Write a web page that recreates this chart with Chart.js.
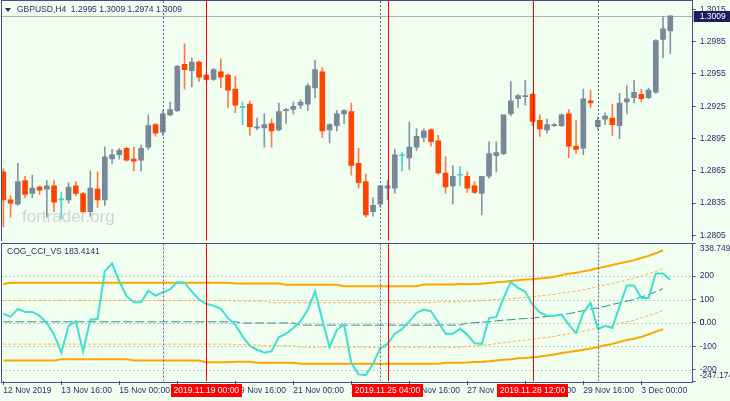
<!DOCTYPE html>
<html>
<head>
<meta charset="utf-8">
<script src="https://cdn.jsdelivr.net/npm/chart.js@4.4.1/dist/chart.umd.min.js"></script>
<style>
  html, body { margin: 0; padding: 0; background: #F0FFF0; }
  #wrap { position: relative; width: 730px; height: 401px; overflow: hidden; background: #F0FFF0; }
  #priceCanvas { position: absolute; left: 0; top: 0; }
  #cciCanvas { position: absolute; left: 0; top: 241px; }
</style>
</head>
<body>
<div id="wrap">
  <canvas id="priceCanvas" width="730" height="241"></canvas>
  <canvas id="cciCanvas" width="730" height="160"></canvas>
</div>
<script>
// GBPUSD H4, 12 Nov 2019 08:00 .. 3 Dec 2019 16:00
const opens = [1.2864,1.2838,1.2834,1.2856,1.2844,1.2850,1.2848,1.2851,1.2838,1.2838,
  1.2851,1.2844,1.2827,1.2848,1.2838,1.2876,1.2880,1.2886,1.2876,1.2875,
  1.2887,1.2908,1.2901,1.2917,1.2921,1.2964,1.2958,1.2966,1.2954,1.2950,
  1.2957,1.2954,1.2941,1.2924,1.2927,1.2905,1.2905,1.2909,1.2903,1.2921,
  1.2922,1.2926,1.2927,1.2942,1.2957,1.2903,1.2907,1.2918,1.2920,1.2872,
  1.2855,1.2827,1.2834,1.2849,1.2849,1.2879,1.2877,1.2887,1.2896,1.2903,
  1.2893,1.2863,1.2851,1.2861,1.2860,1.2851,1.2844,1.2860,1.2879,1.2881,
  1.2918,1.2932,1.2934,1.2936,1.2912,1.2903,1.2907,1.2907,1.2918,1.2888,
  1.2886,1.2930,1.2906,1.2913,1.2914,1.2907,1.2929,1.2933,1.2936,1.2933,
  1.2938,1.2987,1.2995];
const highs = [1.2867,1.2842,1.2872,1.2860,1.2861,1.2851,1.2856,1.2856,1.2845,1.2854,
  1.2855,1.2845,1.2865,1.2864,1.2887,1.2885,1.2886,1.2887,1.2887,1.2889,
  1.2917,1.2909,1.2921,1.2929,1.2963,1.2983,1.2970,1.2967,1.2955,1.2960,
  1.2969,1.2955,1.2953,1.2929,1.2930,1.2914,1.2918,1.2913,1.2928,1.2923,
  1.2929,1.2931,1.2946,1.2968,1.2961,1.2909,1.2921,1.2922,1.2928,1.2886,
  1.2862,1.2840,1.2851,1.2856,1.2885,1.2882,1.2910,1.2904,1.2904,1.2904,
  1.2898,1.2878,1.2870,1.2869,1.2864,1.2855,1.2860,1.2892,1.2892,1.2917,
  1.2948,1.2936,1.2949,1.2937,1.2917,1.2913,1.2909,1.2918,1.2922,1.2912,
  1.2941,1.2940,1.2915,1.2919,1.2927,1.2937,1.2944,1.2949,1.2941,1.2942,
  1.2987,1.3008,1.3009];
const lows = [1.2813,1.2822,1.2833,1.2840,1.2840,1.2843,1.2822,1.2827,1.2820,1.2835,
  1.2842,1.2826,1.2823,1.2831,1.2833,1.2872,1.2876,1.2874,1.2865,1.2865,
  1.2885,1.2897,1.2898,1.2916,1.2920,1.2941,1.2943,1.2948,1.2949,1.2949,
  1.2942,1.2924,1.2919,1.2908,1.2898,1.2903,1.2887,1.2887,1.2902,1.2909,
  1.2918,1.2923,1.2921,1.2933,1.2896,1.2891,1.2902,1.2909,1.2861,1.2849,
  1.2822,1.2823,1.2831,1.2838,1.2844,1.2865,1.2866,1.2884,1.2892,1.2888,
  1.2862,1.2844,1.2834,1.2851,1.2845,1.2844,1.2824,1.2858,1.2864,1.2880,
  1.2916,1.2924,1.2926,1.2907,1.2897,1.2900,1.2906,1.2906,1.2877,1.2881,
  1.2880,1.2924,1.2903,1.2908,1.2898,1.2895,1.2918,1.2928,1.2929,1.2932,
  1.2937,1.2970,1.2974];
const closes = [1.2838,1.2835,1.2855,1.2843,1.2849,1.2847,1.2851,1.2836,1.2838,1.2850,
  1.2844,1.2827,1.2849,1.2838,1.2878,1.2880,1.2884,1.2875,1.2874,1.2886,
  1.2907,1.2900,1.2918,1.2922,1.2962,1.2959,1.2966,1.2952,1.2950,1.2959,
  1.2952,1.2940,1.2926,1.2924,1.2906,1.2906,1.2908,1.2902,1.2920,1.2922,
  1.2925,1.2929,1.2944,1.2959,1.2902,1.2908,1.2918,1.2921,1.2870,1.2854,
  1.2824,1.2833,1.2851,1.2851,1.2880,1.2879,1.2887,1.2897,1.2902,1.2892,
  1.2863,1.2850,1.2860,1.2861,1.2849,1.2845,1.2860,1.2881,1.2882,1.2917,
  1.2930,1.2935,1.2935,1.2911,1.2904,1.2908,1.2908,1.2917,1.2888,1.2885,
  1.2932,1.2928,1.2912,1.2916,1.2908,1.2928,1.2932,1.2938,1.2932,1.2940,
  1.2986,1.2997,1.3009];

// COG_CCI_VS indicator
const cciValues = [40,26,60,47,47,31,0,-50,-126,-12,
  7,-122,14,17,221,254,178,114,88,88,
  138,117,131,143,174,171,135,100,81,74,
  60,21,-7,-57,-97,-114,-126,-121,-60,-46,
  -21,7,57,135,14,-103,-29,-7,-171,-219,
  -222,-174,-107,-89,-46,-26,7,43,57,50,
  3,-46,-46,-24,-50,-86,-89,21,26,107,
  174,150,133,78,45,31,31,36,-7,-43,
  43,86,-26,-12,-21,71,160,160,107,107,
  211,211,183.4141];
const cogUpper = [165,172,172,172,172,172,172,172,172,172,
  172,172,172,172,172,172,172,172,172,172,
  172,172,172,172,172,172,172,172,172,172,
  172,172,168,168,168,168,168,168,168,163,
  163,163,163,163,163,163,163,157,157,157,
  157,157,157,157,157,157,157,157,164,164,
  164,164,164,166,165,166,167,170,174,176,
  179,182,185,186,190,193,197,204,210,214,
  220,226,234,240,247,254,261,268,277,286,
  297,310,null];
const cogLower = [-160,-160,-160,-160,-160,-160,-160,-160,-154,-154,
  -154,-154,-154,-154,-154,-154,-154,-154,-160,-160,
  -160,-160,-160,-160,-160,-160,-160,-160,-167,-167,
  -167,-167,-165,-165,-165,-169,-169,-169,-169,-169,
  -169,-174,-174,-174,-174,-174,-174,-174,-174,-174,
  -174,-174,-174,-174,-174,-174,-174,-174,-174,-174,
  -174,-169,-169,-169,-168,-166,-165,-163,-160,-157,
  -154,-150,-149,-146,-143,-139,-134,-128,-124,-119,
  -114,-109,-102,-95,-89,-81,-72,-67,-59,-49,
  -37,-26,null];
const cogMiddle = [5,5,5,5,5,5,5,5,5,5,
  5,5,5,5,5,5,5,5,5,5,
  5,5,5,5,5,5,5,5,5,5,
  5,5,5,0,0,0,0,0,0,0,
  0,-9,-9,-9,-9,-9,-9,-9,-9,-9,
  -9,-9,-9,-9,-9,-9,-9,-9,-9,-9,
  -9,-9,-9,-9,0,1,4,5,9,12,
  14,17,19,20,25,28,31,36,40,46,
  53,60,64,71,79,86,93,100,111,121,
  133,146,null];
const cogInnerUpper = [96,96,96,96,96,96,96,96,96,96,
  96,96,96,96,96,96,96,96,96,96,
  96,96,96,96,96,96,96,96,96,96,
  96,96,93,93,93,93,93,86,86,86,
  86,86,86,86,86,86,86,86,86,86,
  86,86,86,86,86,86,86,86,86,86,
  90,90,90,90,92,93,95,97,100,102,
  104,107,109,111,115,119,122,128,132,136,
  142,148,155,162,168,176,183,190,200,210,
  220,233,null];
const cogInnerLower = [-90,-90,-90,-90,-90,-90,-90,-90,-90,-90,
  -90,-90,-90,-90,-90,-90,-90,-90,-90,-90,
  -90,-90,-90,-90,-90,-90,-90,-90,-90,-90,
  -90,-90,-93,-93,-93,-93,-97,-97,-97,-97,
  -97,-103,-103,-103,-103,-103,-103,-103,-103,-103,
  -103,-103,-103,-103,-103,-103,-103,-103,-103,-103,
  -103,-103,-103,-103,-100,-98,-95,-92,-88,-84,
  -80,-76,-73,-69,-65,-61,-57,-51,-46,-41,
  -35,-28,-22,-16,-9,-2,5,12,22,31,
  42,53,null];

const priceTicks = [1.3015, 1.2985, 1.2955, 1.2925, 1.2895, 1.2865, 1.2835, 1.2805];
const cciTicks = [338.7496, 200, 100, 0, 0, -100, -200, -247.1748];
const cciTickLabels = [['', '338.7496'], '200', '100', '0.00', '0', '-100', '-200', ['-247.1748', '']];
const cciLevels = [200, 100, 0, -100, -200];
const timeTickIdx = [0, 8, 16, 24, 32, 40, 48, 56, 64, 72, 80, 88];
const timeTickLabels = ['12 Nov 2019', '13 Nov 16:00', '15 Nov 00:00', '18 Nov 08:00', '19 Nov 16:00',
  '21 Nov 00:00', '22 Nov 08:00', '25 Nov 16:00', '27 Nov 00:00', '28 Nov 08:00', '29 Nov 16:00', '3 Dec 00:00'];
const periodSeparators = [22, 52, 82];
const markerIdx = [28, 53, 73];
const markerLabels = ['2019.11.19 00:00', '2019.11.25 04:00', '2019.11.28 12:00'];
const symbolTitle = 'GBPUSD,H4';
const cciTitle = 'COG_CCI_VS 183.4141';

// layout / style
const X_MIN = -0.32, X_MAX = 95.09;
const AXIS_W = 37.3;
const FG = '#2E2E6C';
const FRAME = '#4A4A8C';
const FONT = '"Liberation Sans", Arial, sans-serif';
const BULL = '#778899', BEAR = '#FF4500', DOJI = '#48D1CC';
const BULL_WICK = '#8A94A3', BEAR_WICK = '#FF7A4D';

Chart.defaults.font.family = FONT;
Chart.defaults.font.size = 8.5;
Chart.defaults.color = FG;

const last = closes.length - 1;
const bodyColors = opens.map((o, i) => closes[i] > o ? BULL : closes[i] < o ? BEAR : DOJI);
const wickColors = opens.map((o, i) => closes[i] > o ? BULL_WICK : closes[i] < o ? BEAR_WICK : DOJI);
const pts = arr => arr.map((v, i) => ({ x: i, y: v }));

function line(ctx, x1, y1, x2, y2, color, dash) {
  ctx.save();
  ctx.strokeStyle = color;
  ctx.lineWidth = 1;
  ctx.setLineDash(dash || []);
  ctx.beginPath();
  ctx.moveTo(x1, y1);
  ctx.lineTo(x2, y2);
  ctx.stroke();
  ctx.restore();
}

function drawVerticals(chart) {
  const { ctx, chartArea: a, scales: { x } } = chart;
  periodSeparators.forEach(i => {
    const px = Math.round(x.getPixelForValue(i)) + 0.5;
    line(ctx, px, a.top, px, a.bottom, '#5F5F99', [2, 2]);
  });
  markerIdx.forEach(i => {
    const px = Math.round(x.getPixelForValue(i)) + 0.5;
    line(ctx, px, a.top, px, a.bottom, '#FF0000');
  });
}

function drawFrame(chart) {
  const { ctx, chartArea: a } = chart;
  ctx.save();
  ctx.strokeStyle = FRAME;
  ctx.lineWidth = 1;
  ctx.strokeRect(Math.round(a.left) + 0.5, Math.round(a.top) - 0.5, Math.round(a.right - a.left) - 1, Math.round(a.bottom - a.top) + 1);
  ctx.restore();
}

const pricePlugin = {
  id: 'pricePlugin',
  beforeDatasetsDraw(chart) {
    const { ctx, chartArea: a, scales: { y } } = chart;
    const py = Math.round(y.getPixelForValue(closes[last])) + 0.5;
    line(ctx, a.left, py, a.right, py, '#A9B3BD');
    // watermark
    ctx.save();
    ctx.font = '17px ' + FONT;
    ctx.fillStyle = '#CFD6DA';
    ctx.textBaseline = 'alphabetic';
    ctx.fillText('fortrader.org', 22, 222);
    ctx.restore();
  },
  afterDatasetsDraw(chart) {
    drawVerticals(chart);
  },
  afterDraw(chart) {
    const { ctx, chartArea: a, scales: { y } } = chart;
    drawFrame(chart);
    // bid label
    const py = y.getPixelForValue(closes[last]);
    ctx.save();
    ctx.fillStyle = '#1E1E5E';
    ctx.fillRect(a.right + 1, Math.round(py) - 5, 40, 11);
    ctx.fillStyle = '#FFFFFF';
    ctx.font = '8.5px ' + FONT;
    ctx.textBaseline = 'middle';
    ctx.fillText(closes[last].toFixed(4), a.right + 7, py + 0.5);
    // header
    ctx.fillStyle = FG;
    ctx.beginPath();
    ctx.moveTo(5, 8); ctx.lineTo(11, 8); ctx.lineTo(8, 12); ctx.closePath();
    ctx.fill();
    const hdr = symbolTitle + '  ' + [opens[last], highs[last], lows[last], closes[last]].map(v => v.toFixed(4)).join(' ');
    ctx.fillText(hdr, 17, 10);
    ctx.restore();
  }
};

const cciPlugin = {
  id: 'cciPlugin',
  beforeDatasetsDraw(chart) {
    const { ctx, chartArea: a, scales: { y } } = chart;
    cciLevels.forEach(v => {
      const py = Math.round(y.getPixelForValue(v)) + 0.5;
      line(ctx, a.left, py, a.right, py, '#C4C8C8', [2, 2]);
    });
  },
  afterDatasetsDraw(chart) {
    drawVerticals(chart);
  },
  afterDraw(chart) {
    const { ctx, chartArea: a, scales: { x } } = chart;
    drawFrame(chart);
    ctx.save();
    ctx.font = '8.5px ' + FONT;
    ctx.textBaseline = 'middle';
    ctx.fillStyle = FG;
    ctx.fillText(cciTitle, 7, 11);
    markerIdx.forEach((i, k) => {
      const px = x.getPixelForValue(i);
      const w = ctx.measureText(markerLabels[k]).width + 5;
      ctx.fillStyle = '#FF0000';
      ctx.fillRect(Math.round(px - w / 2), a.bottom + 3, Math.round(w), 13);
      ctx.fillStyle = '#FFFFFF';
      ctx.textAlign = 'center';
      ctx.fillText(markerLabels[k], px, a.bottom + 9.5);
    });
    ctx.restore();
  }
};

// keep the plot area where the terminal puts it: fixed axis size, no label padding
const fixY = s => { s.width = AXIS_W; s.paddingTop = 0; s.paddingBottom = 0; };
const fixX = s => { s.height = 20; s.paddingLeft = 0; s.paddingRight = 0; };

new Chart(document.getElementById('priceCanvas'), {
  type: 'bar',
  data: {
    datasets: [
      { data: opens.map((o, i) => ({ x: i, y: [o, closes[i]] })), backgroundColor: bodyColors,
        barThickness: 5, minBarLength: 1, grouped: false, borderWidth: 0 },
      { data: lows.map((l, i) => ({ x: i, y: [l, highs[i]] })), backgroundColor: wickColors,
        barThickness: 1, grouped: false, borderWidth: 0 }
    ]
  },
  options: {
    responsive: false,
    animation: false,
    layout: { padding: { left: 1, top: 1, right: 0, bottom: 0.5 } },
    plugins: { legend: { display: false }, tooltip: { enabled: false } },
    scales: {
      x: { type: 'linear', min: X_MIN, max: X_MAX, offset: false, display: false },
      y: {
        position: 'right', min: 1.28003, max: 1.30228,
        afterBuildTicks: s => { s.ticks = priceTicks.map(v => ({ value: v })); },
        afterFit: fixY,
        border: { display: false },
        grid: { drawOnChartArea: false, drawTicks: true, tickLength: 3, color: FRAME },
        ticks: { autoSkip: false, padding: 4, color: FG, callback: v => v.toFixed(4) }
      }
    }
  },
  plugins: [pricePlugin]
});

new Chart(document.getElementById('cciCanvas'), {
  type: 'line',
  data: {
    datasets: [
      { data: pts(cciValues), borderColor: '#40E0D0', borderWidth: 2 },
      { data: pts(cogUpper), borderColor: '#FFA500', borderWidth: 2 },
      { data: pts(cogLower), borderColor: '#FFA500', borderWidth: 2 },
      { data: pts(cogInnerUpper), borderColor: '#FFB340', borderWidth: 1, borderDash: [3, 2] },
      { data: pts(cogInnerLower), borderColor: '#FFB340', borderWidth: 1, borderDash: [3, 2] },
      { data: pts(cogMiddle), borderColor: '#2F8F88', borderWidth: 1, borderDash: [9, 3] }
    ]
  },
  options: {
    responsive: false,
    animation: false,
    elements: { point: { radius: 0 }, line: { tension: 0 } },
    layout: { padding: { left: 1, top: 2.5, right: 0, bottom: 0 } },
    plugins: { legend: { display: false }, tooltip: { enabled: false } },
    scales: {
      x: {
        type: 'linear', min: X_MIN, max: X_MAX, offset: false,
        afterBuildTicks: s => { s.ticks = timeTickIdx.map(v => ({ value: v })); },
        afterFit: fixX,
        border: { display: false },
        grid: { drawOnChartArea: false, drawTicks: true, tickLength: 4, color: FRAME },
        ticks: { autoSkip: false, maxRotation: 0, align: 'start', padding: 1, color: FG,
          callback: (v, i) => timeTickLabels[i] }
      },
      y: {
        position: 'right', min: -247.1748, max: 338.7496,
        afterBuildTicks: s => { s.ticks = cciTicks.map(v => ({ value: v })); },
        afterFit: fixY,
        border: { display: false },
        grid: { drawOnChartArea: false, drawTicks: true, tickLength: 3, color: FRAME },
        ticks: { autoSkip: false, padding: 4, color: FG, callback: (v, i) => cciTickLabels[i] }
      }
    }
  },
  plugins: [cciPlugin]
});
</script>
</body>
</html>
